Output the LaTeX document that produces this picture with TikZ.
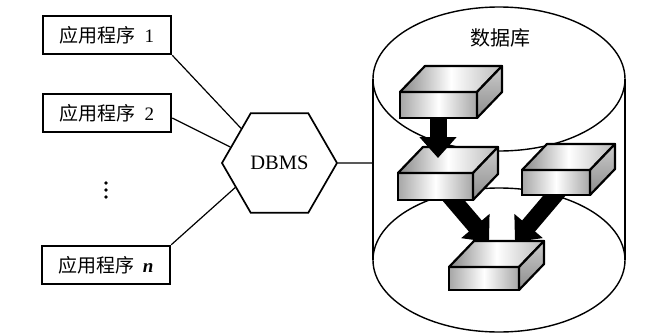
\documentclass[tikz,border=0pt]{standalone}
\usepackage{fontspec}
\setmainfont{Liberation Serif}
\newfontfamily\cjk{Noto Sans CJK SC}
\usetikzlibrary{shapes.geometric,arrows.meta}

% one shaded 3-D slab: name, centre x, centre y (of the front face), width, height
\newcommand\dbslab[5]{%
  \node[slabfront, minimum width=#4pt, minimum height=#5pt] (#1) at (#2,#3) {};
  \path[slabtop] (#1.north west) -- ++(25,-26) -- ++(#4,0) -- (#1.north east) -- cycle;
  \path[slabside] (#1.north east) -- ++(25,-26) -- ++(0,#5) -- (#1.south east) -- cycle;
}

\begin{document}
\begin{tikzpicture}[x=1pt,y=-1pt,
  appbox/.style={draw, line width=2.5pt, minimum width=128pt, minimum height=38pt,
    inner sep=0pt, font=\fontsize{19}{19}\selectfont},
  conn/.style={draw, line width=1.2pt},
  cyl/.style={draw, line width=1.4pt},
  slabfront/.style={draw, line width=2.2pt, outer sep=0pt, inner sep=0pt,
    left color=gray!70, right color=gray!70, middle color=white},
  slabtop/.style={draw, line width=2.2pt, line join=round,
    left color=gray!95, right color=gray!55, middle color=white},
  slabside/.style={draw, line width=2.2pt, line join=round,
    top color=gray!40, bottom color=gray!90},
  fatarrow/.style={draw, line width=17pt, -{Triangle[length=21pt,width=36pt]}},
  vdot/.style={fill, radius=1.8pt},
]
\useasboundingbox (0,0) rectangle (657,335);
\fill[white] (0,0) rectangle (657,335);

% application programs
\node[appbox] (app1) at (107,35) {{\cjk 应用程序}\hspace{0.45em}1};
\node[appbox] (app2) at (107,113) {{\cjk 应用程序}\hspace{0.45em}2};
\node[appbox] (appn) at (106,265) {{\cjk 应用程序}\hspace{0.45em}\textbf{\textit{n}}};
\fill[vdot] (106,183) circle;
\fill[vdot] (106,190) circle;
\fill[vdot] (106,197) circle;

% DBMS
\node[regular polygon, regular polygon sides=6, minimum size=115pt, inner sep=0pt,
  draw, line width=1.7pt, font=\fontsize{20.5}{20.5}\selectfont] (dbms) at (279.5,163) {DBMS};

% database cylinder
\draw[cyl] (373,79) -- (373,260);
\draw[cyl] (625,79) -- (625,260);
\draw[cyl] (499,79) ellipse [x radius=126, y radius=72];
\draw[cyl] (499,260) ellipse [x radius=126, y radius=72];
\coordinate (cylL) at (373,163);
\node[font=\cjk\fontsize{20}{20}\selectfont] (dbtitle) at (500,38) {数据库};

% connectors
\draw[conn] (app1.south east) -- (dbms.138);
\draw[conn] ([yshift=-5pt]app2.east) -- (dbms.162);
\draw[conn] (appn.north east) -- (dbms.209);
\draw[conn] (dbms.0) -- (cylL);

% slabs and data flow inside the database
\dbslab{bD}{484}{278.5}{70}{23}
\coordinate (bdS) at (448,194);
\coordinate (bdT) at (489,242);
\coordinate (cdS) at (560,189);
\coordinate (cdT) at (515,242);
\draw[fatarrow] (bdS) -- (bdT);
\draw[fatarrow] (cdS) -- (cdT);
\dbslab{bB}{435.5}{186.5}{75}{27}
\dbslab{bC}{556}{182.5}{68}{25}
\coordinate (abT) at (438,158);
\draw[fatarrow] (438,112) -- (abT);
\dbslab{bA}{438.5}{105}{77}{26}
\end{tikzpicture}
\end{document}
